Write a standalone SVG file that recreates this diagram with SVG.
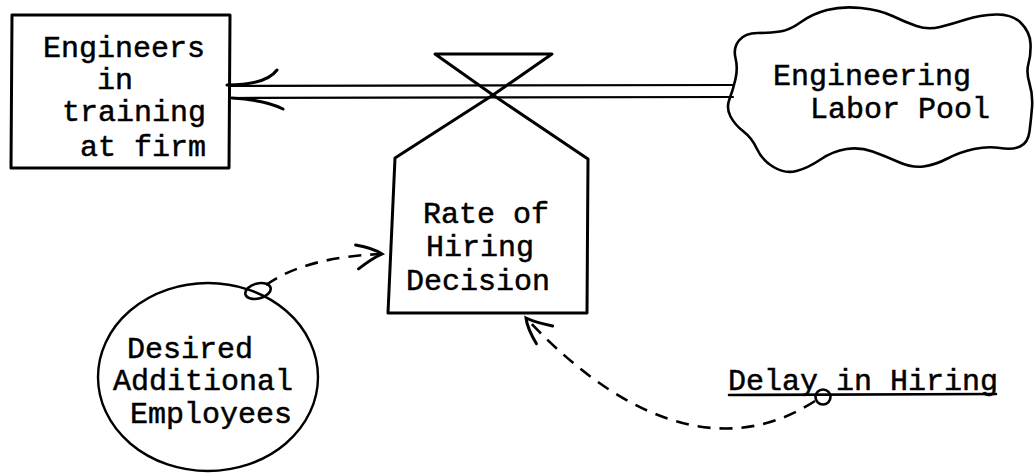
<svg xmlns="http://www.w3.org/2000/svg" width="1035" height="473" viewBox="0 0 1035 473">
<defs>
<style>
.t{font-family:"Liberation Mono","Courier New",monospace;font-size:30px;fill:#000;stroke:#000;stroke-width:0.5}
.ln{fill:none;stroke:#000;stroke-linecap:round;stroke-linejoin:round}
.dash{fill:none;stroke:#000;stroke-width:2.6;stroke-dasharray:13 9}
</style>
<marker id="barb" markerUnits="userSpaceOnUse" markerWidth="40" markerHeight="40" refX="0" refY="0" orient="auto" overflow="visible">
<path d="M -26 -10 Q -8 -6 0 0 Q -10 4 -24 14" fill="none" stroke="#000" stroke-width="3" stroke-linecap="round"/>
</marker>
</defs>
<rect width="1035" height="473" fill="#fff"/>
<g id="connectors">
<path class="ln" stroke-width="2.2" d="M 231 86 L 733 85"/>
<path class="ln" stroke-width="2.2" d="M 232 98 L 733 97"/>
<path class="ln" stroke-width="3" d="M 227 85 Q 266 85 277 70"/>
<path class="ln" stroke-width="3" d="M 232 98 Q 265 100 283 109"/>
<path class="dash" d="M 266 285 Q 305 257 382 254" marker-end="url(#barb)"/>
<path class="dash" d="M 815 401 C 740 450 640 440 526 318" marker-end="url(#barb)"/>
</g>
<g id="stock">
<path class="ln" stroke-width="3" d="M 12 15 L 230 15 L 229 168 L 11 168 Z"/>
<text class="t" x="43" y="57">Engineers</text>
<text class="t" x="97" y="89">in</text>
<text class="t" x="62" y="121">training</text>
<text class="t" x="80" y="156">at firm</text>
</g>
<g id="rate">
<path class="ln" stroke-width="3" d="M 493 95 L 435 54 L 552 54 Z"/>
<path class="ln" stroke-width="3" d="M 395 158 L 493 95 L 588 159 L 587 313 L 388 313 Z"/>
<text class="t" x="423" y="223">Rate of</text>
<text class="t" x="426" y="256">Hiring</text>
<text class="t" x="406" y="290">Decision</text>
</g>
<g id="source">
<path class="ln" stroke-width="2.6" d="M 729.5 99 Q 733 90 735.5 79 Q 738 68 735.5 58 Q 733 48 739 40.5 Q 745 33 757.5 33 Q 770 33 780 31.5 Q 790 30 801 22 Q 812 14 827 10 Q 842 6 861 8 Q 880 10 892.5 16 Q 905 22 916.5 26 Q 928 30 940 27 Q 952 24 966 19.5 Q 980 15 996 14.5 Q 1012 14 1021 23 Q 1030 32 1030.5 43.5 Q 1031 55 1028.5 63.5 Q 1026 72 1029.5 83.5 Q 1033 95 1032 107.5 Q 1031 120 1029.5 131.5 Q 1028 143 1020 146.5 Q 1012 150 1000 148 Q 988 146 974 149 Q 960 152 947.5 158.5 Q 935 165 923.5 166.5 Q 912 168 898.5 162 Q 885 156 872.5 151.5 Q 860 147 846.5 149 Q 833 151 820.5 159.5 Q 808 168 796.5 171 Q 785 174 773.5 167 Q 762 160 757 149 Q 752 138 743.5 131.5 Q 735 125 730.5 116.5 Q 726 108 729.5 99 Z"/>
<text class="t" x="773" y="85">Engineering</text>
<text class="t" x="810" y="118">Labor Pool</text>
</g>
<g id="desired">
<ellipse class="ln" stroke-width="2.4" cx="208" cy="377" rx="110" ry="94"/>
<ellipse class="ln" stroke-width="2.6" cx="258" cy="291" rx="13" ry="7.5" transform="rotate(-15 258 291)"/>
<text class="t" x="127" y="358">Desired</text>
<text class="t" x="113" y="390">Additional</text>
<text class="t" x="130" y="423">Employees</text>
</g>
<g id="delay">
<text class="t" x="728" y="390">Delay in Hiring</text>
<path class="ln" stroke-width="2.6" d="M 729 395 L 996 394"/>
<circle class="ln" stroke-width="2.6" cx="823" cy="397" r="7.5" fill="#fff"/>
</g>
</svg>
